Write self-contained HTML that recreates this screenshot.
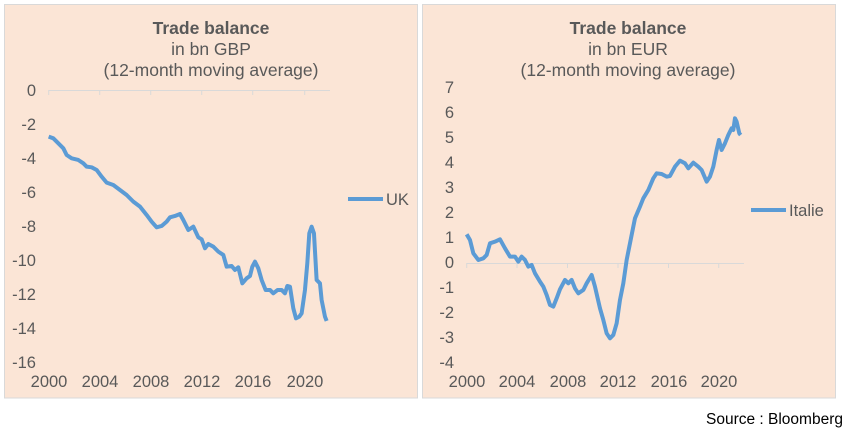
<!DOCTYPE html>
<html><head><style>
body{margin:0;background:#fff;width:847px;height:432px;overflow:hidden}
svg text{font-family:"Liberation Sans",Arial,sans-serif;fill:#595959}
</style></head><body>
<svg width="847" height="432" xmlns="http://www.w3.org/2000/svg">
<rect x="4.5" y="4.5" width="413" height="393.5" fill="#FBE5D6" stroke="#d9d9d9"/>
<rect x="422.5" y="4.5" width="413" height="393.5" fill="#FBE5D6" stroke="#d9d9d9"/>
<g text-anchor="middle" font-size="17.5">
<text x="211" y="34" font-weight="bold">Trade balance</text>
<text x="211" y="55">in bn GBP</text>
<text x="211" y="76">(12-month moving average)</text>
<text x="628" y="34" font-weight="bold">Trade balance</text>
<text x="628" y="55">in bn EUR</text>
<text x="628" y="76">(12-month moving average)</text>
</g>
<g stroke="#d9d9d9" stroke-width="1">
<line x1="48.7" y1="90.5" x2="330" y2="90.5"/>
<line x1="48.7" y1="90" x2="48.7" y2="95"/><line x1="99.7" y1="90" x2="99.7" y2="95"/><line x1="150.7" y1="90" x2="150.7" y2="95"/><line x1="201.7" y1="90" x2="201.7" y2="95"/><line x1="252.7" y1="90" x2="252.7" y2="95"/><line x1="304.7" y1="90" x2="304.7" y2="95"/>
</g>
<g font-size="16.5" text-anchor="end">
<text x="36" y="96">0</text><text x="36" y="130">-2</text><text x="36" y="164">-4</text><text x="36" y="198">-6</text><text x="36" y="232">-8</text><text x="36" y="266">-10</text><text x="36" y="300">-12</text><text x="36" y="334">-14</text><text x="36" y="368">-16</text>
</g>
<g font-size="16.5" text-anchor="middle">
<text x="49" y="387">2000</text><text x="100" y="387">2004</text><text x="151" y="387">2008</text><text x="202" y="387">2012</text><text x="253" y="387">2016</text><text x="305" y="387">2020</text>
</g>
<g transform="scale(0.3333)">
<polyline fill="none" stroke="#5B9BD5" stroke-width="12" stroke-linejoin="round" points="146,410 160,415 175,430 190,445 200,465 215,475 235,480 250,490 260,500 275,502 290,510 305,530 320,548 340,555 360,570 380,585 400,605 420,620 440,645 455,665 470,682 485,678 500,665 510,652 525,648 540,642 550,660 565,690 580,680 595,712 605,718 615,745 625,732 640,740 655,755 670,765 680,800 695,798 705,810 715,802 727,850 740,835 750,828 757,800 765,785 775,805 785,840 797,870 810,870 820,880 833,870 845,870 855,880 862,858 870,860 880,925 888,955 898,950 905,940 915,870 922,790 928,700 935,680 942,700 950,840 960,850 965,900 975,950 980,963"/>
</g>
<line x1="348" y1="199" x2="383" y2="199" stroke="#5B9BD5" stroke-width="4"/>
<text x="386" y="205" font-size="16.5">UK</text>
<g stroke="#d9d9d9" stroke-width="1">
<line x1="466.7" y1="263.5" x2="744" y2="263.5"/>
<line x1="466.7" y1="263" x2="466.7" y2="268"/><line x1="517" y1="263" x2="517" y2="268"/><line x1="567.5" y1="263" x2="567.5" y2="268"/><line x1="618" y1="263" x2="618" y2="268"/><line x1="668.5" y1="263" x2="668.5" y2="268"/><line x1="718.7" y1="263" x2="718.7" y2="268"/>
</g>
<g font-size="16.5" text-anchor="end">
<text x="454" y="93">7</text><text x="454" y="118">6</text><text x="454" y="143">5</text><text x="454" y="168">4</text><text x="454" y="193">3</text><text x="454" y="218">2</text><text x="454" y="243">1</text><text x="454" y="268">0</text><text x="454" y="293">-1</text><text x="454" y="318">-2</text><text x="454" y="343">-3</text><text x="454" y="368">-4</text>
</g>
<g font-size="16.5" text-anchor="middle">
<text x="467" y="387">2000</text><text x="517" y="387">2004</text><text x="568" y="387">2008</text><text x="618" y="387">2012</text><text x="669" y="387">2016</text><text x="719" y="387">2020</text>
</g>
<g transform="translate(420,0) scale(0.3333)">
<polyline fill="none" stroke="#5B9BD5" stroke-width="12" stroke-linejoin="round" points="140,703 150,720 160,760 175,780 190,775 200,765 210,730 225,725 240,718 255,745 270,770 285,770 295,785 305,770 315,780 325,800 335,795 345,820 360,845 370,860 380,885 390,915 400,920 410,895 420,868 435,840 445,850 455,840 465,865 475,880 490,870 500,850 515,825 525,860 540,925 550,960 560,1000 570,1015 580,1005 590,970 600,900 610,850 620,780 630,730 645,655 660,620 670,595 685,570 700,535 710,520 725,522 740,530 750,528 765,500 780,482 795,490 805,505 820,488 835,500 845,510 860,545 870,530 880,500 890,450 897,420 905,450 915,430 925,405 935,385 940,390 945,355 950,365 958,400 962,405"/>
</g>
<line x1="751" y1="210" x2="786" y2="210" stroke="#5B9BD5" stroke-width="4"/>
<text x="789" y="216" font-size="16.5">Italie</text>
<text x="843" y="424" font-size="15.5" text-anchor="end" style="fill:#000">Source : Bloomberg</text>
</svg>
</body></html>
